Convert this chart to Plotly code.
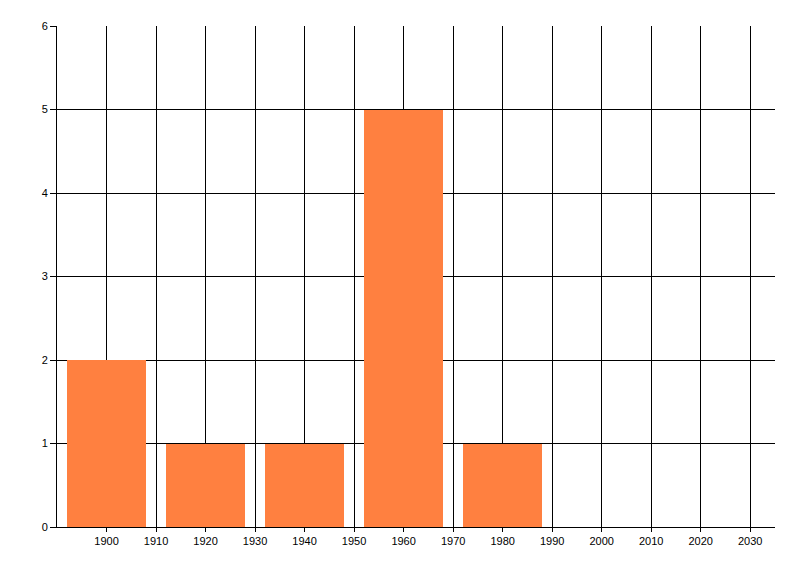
import plotly.graph_objects as go

decades = [1900, 1920, 1940, 1960, 1980]
counts = [2, 1, 1, 5, 1]
x_ticks = list(range(1900, 2031, 10))
x_labels = [str(v) for v in x_ticks]
y_ticks = [0, 1, 2, 3, 4, 5, 6]

fig = go.Figure(go.Bar(x=decades, y=counts, width=16, marker=dict(color="#FF8040", line=dict(width=0))))

fig.update_layout(
    width=800, height=576,
    margin=dict(l=49, r=33, t=18, b=57),
    paper_bgcolor="white", plot_bgcolor="white",
    showlegend=False,
    font=dict(family="Liberation Sans, Arial, sans-serif", size=11, color="black"),
    bargap=0,
)
fig.update_xaxes(
    range=[1890, 2035], tickvals=x_ticks, ticktext=x_labels,
    showgrid=True, gridcolor="black", gridwidth=1,
    showline=True, linecolor="black", linewidth=1,
    ticks="outside", ticklen=4, tickcolor="black", tickwidth=1,
    zeroline=False, fixedrange=True,
)
fig.update_yaxes(
    range=[0, 6], tickvals=y_ticks,
    showgrid=True, gridcolor="black", gridwidth=1,
    showline=True, linecolor="black", linewidth=1,
    ticks="outside", ticklen=6, tickcolor="black", tickwidth=1,
    zeroline=False, fixedrange=True,
)
fig.write_html("out.html")
